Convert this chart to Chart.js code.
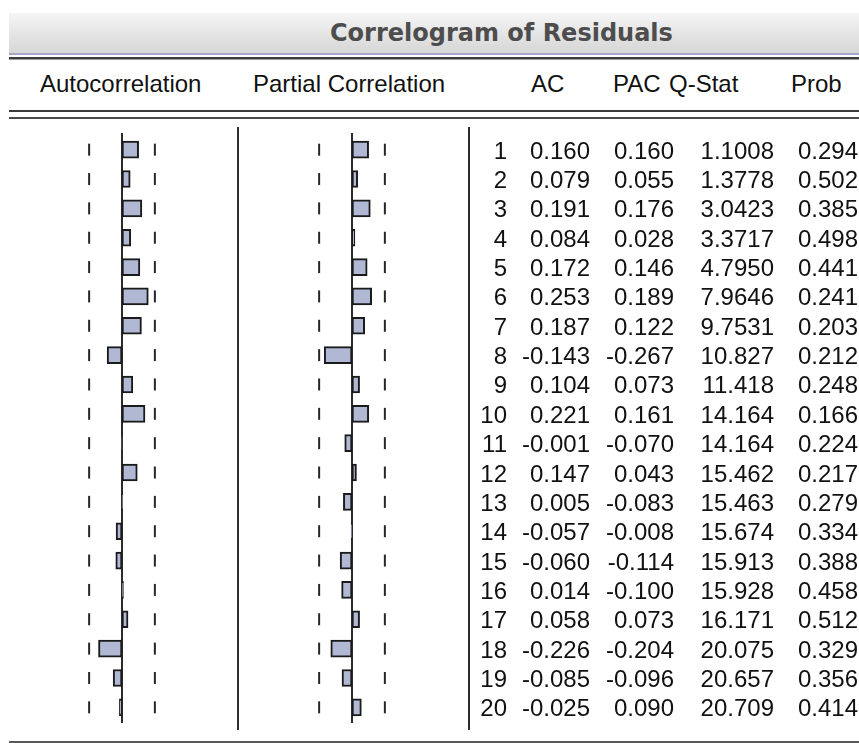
<!DOCTYPE html>
<html>
<head>
<meta charset="utf-8">
<title>Correlogram of Residuals</title>
<script src="https://cdn.jsdelivr.net/npm/chart.js@4/dist/chart.umd.min.js"></script>
<style>
  html, body { margin: 0; padding: 0; background: #ffffff; }
  #page { position: relative; width: 859px; height: 743px; overflow: hidden;
          font-family: "Liberation Sans", Arial, sans-serif; color: #111111; }
  .rule { position: absolute; }
  .txt { position: absolute; white-space: nowrap; font-size: 24px; line-height: 30px; }
  .num { text-align: right; width: 120px; }
  #title { font-family: "DejaVu Sans", sans-serif; font-weight: bold; color: #4d4d4d; }
  canvas { position: absolute; }
</style>
</head>
<body>
<div id="page">
  <!-- title band -->
  <div class="rule" style="left:9px;top:13px;width:850px;height:40px;background:linear-gradient(#f5f5f5,#d6d6d6);"></div>
  <div class="rule" style="left:9px;top:53px;width:850px;height:2px;background:#a6a6c8;"></div>
  <div class="rule" style="left:9px;top:57px;width:850px;height:2px;background:#3c3c3c;"></div>
  <div class="rule" style="left:9px;top:59px;width:850px;height:1px;background:#9a9a9a;"></div>
  <div id="title" class="txt" style="left:330px;top:18px;">Correlogram of Residuals</div>

  <!-- column headings -->
  <div class="txt" style="left:40px;top:69px;">Autocorrelation</div>
  <div class="txt" style="left:253px;top:69px;">Partial Correlation</div>
  <div class="txt" style="left:531px;top:69px;">AC</div>
  <div class="txt" style="left:613px;top:69px;">PAC</div>
  <div class="txt" style="left:669px;top:69px;">Q-Stat</div>
  <div class="txt" style="left:791px;top:69px;">Prob</div>
  <div class="rule" style="left:9px;top:110px;width:850px;height:2px;background:#3a3a3a;"></div>
  <div class="rule" style="left:9px;top:117px;width:850px;height:2px;background:#4a4a4a;"></div>

  <!-- panel separators -->
  <div class="rule" style="left:237px;top:127px;width:2px;height:603px;background:#2e2e2e;"></div>
  <div class="rule" style="left:468px;top:127px;width:2px;height:603px;background:#2e2e2e;"></div>

  <canvas id="acChart" width="224" height="603" style="left:10px;top:127px;"></canvas>
  <canvas id="pacChart" width="224" height="603" style="left:240px;top:127px;"></canvas>

  <div id="rows"></div>

  <div class="rule" style="left:9px;top:741px;width:850px;height:2px;background:#585858;"></div>
</div>

<script>
// Lags and statistics of the residual correlogram
const lags = [1, 2, 3, 4, 5, 6, 7, 8, 9, 10, 11, 12, 13, 14, 15, 16, 17, 18, 19, 20];
const acValues = [0.160, 0.079, 0.191, 0.084, 0.172, 0.253, 0.187, -0.143, 0.104, 0.221,
                  -0.001, 0.147, 0.005, -0.057, -0.060, 0.014, 0.058, -0.226, -0.085, -0.025];
const pacValues = [0.160, 0.055, 0.176, 0.028, 0.146, 0.189, 0.122, -0.267, 0.073, 0.161,
                   -0.070, 0.043, -0.083, -0.008, -0.114, -0.100, 0.073, -0.204, -0.096, 0.090];
const qStats = [1.1008, 1.3778, 3.0423, 3.3717, 4.7950, 7.9646, 9.7531, 10.827, 11.418, 14.164,
                14.164, 15.462, 15.463, 15.674, 15.913, 15.928, 16.171, 20.075, 20.657, 20.709];
const probs = [0.294, 0.502, 0.385, 0.498, 0.441, 0.241, 0.203, 0.212, 0.248, 0.166,
               0.224, 0.217, 0.279, 0.334, 0.388, 0.458, 0.512, 0.329, 0.356, 0.414];
// approximate two standard error band, 2/sqrt(40 observations)
const bandLimit = 0.316;

const barFill = '#b0b8d4';
const barEdge = '#1a1a1a';
const edgeInk = '#262626';

// solid vertical line through zero, slightly longer than the row area
const zeroLine = {
  id: 'zeroLine',
  beforeDatasetsDraw(chart) {
    const { ctx, chartArea, scales } = chart;
    const px = Math.round(scales.x.getPixelForValue(0));
    ctx.save();
    ctx.strokeStyle = '#2b2b2b';
    ctx.lineWidth = 2;
    ctx.beginPath();
    ctx.moveTo(px, chartArea.top - 2);
    ctx.lineTo(px, chartArea.bottom + 1);
    ctx.stroke();
    ctx.restore();
  }
};

function bandSet(value) {
  return {
    type: 'line',
    indexAxis: 'y',
    data: lags.map(() => value),
    showLine: false,
    pointStyle: 'line',
    pointRotation: 90,
    pointRadius: 6,
    pointBorderWidth: 2,
    pointBorderColor: edgeInk,
    pointBackgroundColor: edgeInk,
    order: 2
  };
}

function makePanel(id, values) {
  return new Chart(document.getElementById(id), {
    type: 'bar',
    data: {
      labels: lags,
      datasets: [
        {
          type: 'bar',
          data: values,
          backgroundColor: barFill,
          borderColor: barEdge,
          borderWidth: 2,
          borderSkipped: false,
          barThickness: 17,
          order: 1
        },
        bandSet(-bandLimit),
        bandSet(bandLimit)
      ]
    },
    options: {
      indexAxis: 'y',
      responsive: false,
      maintainAspectRatio: false,
      animation: false,
      events: [],
      layout: { padding: { top: 2, bottom: 1, left: 0, right: 0 } },
      plugins: { legend: { display: false }, tooltip: { enabled: false }, title: { display: false } },
      scales: {
        x: { type: 'linear', min: -1, max: 1, display: false },
        y: { type: 'category', offset: true, display: false }
      }
    },
    plugins: [zeroLine]
  });
}

const acChart = makePanel('acChart', acValues);
const pacChart = makePanel('pacChart', pacValues);

// table of statistics, one line per lag, placed on the chart's row positions
const rowsBox = document.getElementById('rows');
const canvasTop = 127;
const columns = [
  { right: 507, fmt: i => String(lags[i]) },
  { right: 590, fmt: i => acValues[i].toFixed(3) },
  { right: 674, fmt: i => pacValues[i].toFixed(3) },
  { right: 774, fmt: i => qStats[i].toPrecision(5) },
  { right: 858, fmt: i => probs[i].toFixed(3) }
];
lags.forEach((lag, i) => {
  const center = canvasTop + acChart.scales.y.getPixelForValue(i);
  columns.forEach(col => {
    const d = document.createElement('div');
    d.className = 'txt num';
    d.style.left = (col.right - 120) + 'px';
    d.style.top = (center - 14) + 'px';
    d.textContent = col.fmt(i);
    rowsBox.appendChild(d);
  });
});
</script>
</body>
</html>
